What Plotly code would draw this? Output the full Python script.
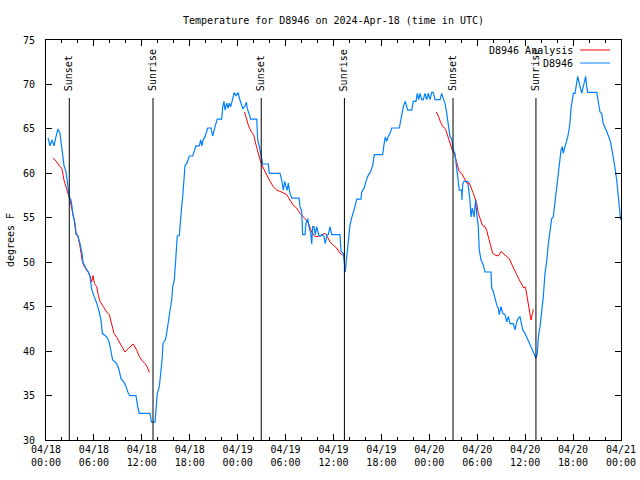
import pandas as pd
import plotly.graph_objects as go

# ---------------- data ----------------
start = "2024-04-18 00:00"
# observed temperature (hours since start, deg F)
obs_hours = [0.25, 0.5, 0.75, 1.0, 1.25, 1.5, 1.75, 1.88, 2.0, 2.13, 2.25, 2.5, 2.63, 2.75, 2.88,
             3.13, 3.26, 3.38, 3.63, 3.76, 4.0, 4.26, 4.51, 4.63, 5.0, 5.3, 5.51, 5.72, 6.05, 6.35,
             6.67, 6.89, 7.05, 7.6, 7.89, 8.14, 8.35, 8.85, 9.14, 9.39, 9.8, 10.02, 10.31, 10.52,
             11.27, 11.48, 11.68, 13.02, 13.21, 13.65, 13.77, 13.94, 14.19, 14.36, 14.53, 14.65,
             14.94, 15.11, 15.31, 15.53, 15.74, 15.87, 16.07, 16.15, 16.28, 16.44, 16.69, 16.78,
             16.99, 17.12, 17.28, 17.41, 17.62, 17.94, 18.37, 18.57, 18.78, 19.2, 19.37, 19.53,
             19.66, 19.91, 20.25, 20.66, 20.87, 21.16, 21.45, 22.0, 22.13, 22.29, 22.41, 22.63,
             22.79, 22.95, 23.13, 23.38, 23.58, 23.79, 24.04, 24.29, 24.63, 24.88, 25.08, 25.21,
             25.33, 25.63, 26.39, 26.51, 26.71, 26.89, 27.14, 27.84, 27.96, 29.3, 29.51, 29.71,
             29.89, 30.05, 30.21, 30.34, 30.55, 30.77, 31.68, 31.81, 32.02, 32.14, 32.43, 32.56,
             32.77, 32.93, 33.15, 33.27, 33.4, 33.56, 33.72, 33.9, 34.15, 34.31, 34.56, 34.81,
             34.97, 35.19, 35.35, 35.56, 35.78, 36.81, 36.94, 37.23, 37.35, 37.48, 37.65, 37.85,
             38.07, 38.28, 38.48, 38.69, 38.9, 39.44, 39.53, 39.82, 40.07, 40.36, 40.66, 40.91,
             41.11, 42.16, 42.32, 42.49, 42.66, 42.83, 43.08, 43.29, 44.24, 44.42, 44.58, 44.74,
             44.99, 45.29, 45.79, 45.99, 46.33, 46.49, 46.67, 46.83, 47.05, 47.25, 47.46, 47.67,
             47.87, 48.09, 48.3, 48.5, 48.71, 49.34, 49.55, 49.75, 49.96, 50.18, 50.38, 50.59,
             50.8, 51.0, 51.21, 51.43, 51.63, 51.75, 52.05, 52.08, 52.18, 52.34, 52.81, 53.01,
             53.09, 53.22, 53.38, 53.59, 53.8, 53.93, 54.13, 54.25, 54.47, 54.76, 54.97, 55.72,
             55.81, 56.01, 56.23, 56.44, 56.64, 56.76, 56.97, 57.19, 57.48, 57.69, 57.89, 58.1,
             58.51, 58.73, 58.94, 59.14, 59.35, 59.52, 59.69, 59.98, 60.27, 60.61, 60.94, 61.23,
             61.36, 61.52, 61.65, 61.86, 62.07, 62.27, 62.48, 62.7, 62.9, 63.11, 63.32, 63.52,
             63.65, 63.82, 64.03, 64.15, 64.36, 64.49, 64.65, 64.78, 64.93, 65.12, 65.33, 65.49,
             65.62, 65.74, 65.87, 66.03, 66.24, 66.45, 66.58, 66.74, 66.87, 67.08, 67.28, 67.43,
             67.58, 67.7, 67.83, 68.96, 69.16, 69.37, 69.58, 69.78, 70.12, 70.41, 70.62, 70.84,
             71.04, 71.25, 71.46, 71.66, 71.79, 71.96]
obs_temp = [64.0, 63.1, 63.75, 63.1, 64.1, 65.0, 64.5, 63.6, 62.6, 61.7, 60.9, 60.2, 59.5, 58.5, 57.4,
            57.0, 56.25, 55.3, 54.4, 53.3, 52.9, 52.1, 51.0, 50.0, 49.3, 48.9, 48.4, 46.95, 46.1, 45.4,
            44.4, 43.5, 42.0, 41.6, 41.1, 40.1, 39.0, 38.6, 37.9, 36.9, 36.45, 36.0, 35.25, 35.0,
            35.0, 33.75, 33.0, 33.0, 32.0, 32.0, 33.4, 35.25, 36.0, 37.5, 39.0, 40.9,
            41.25, 42.0, 43.5, 44.6, 45.75, 47.25, 48.0, 49.1, 51.75, 52.95, 53.0, 54.4,
            56.25, 57.4, 59.25, 60.9, 61.1, 61.95, 61.95, 62.6, 63.1, 63.1, 63.75, 63.1,
            63.75, 64.1, 65.1, 65.1, 64.2, 65.25, 66.1, 66.1, 67.5, 68.1, 67.1, 67.9,
            67.3, 67.9, 67.5, 68.4, 69.1, 68.7, 69.1, 68.25, 67.3, 67.5, 68.0, 67.3,
            67.0, 66.1, 66.1, 63.75, 63.0, 62.1, 61.05, 61.05, 60.0, 60.0, 59.25, 58.1,
            59.1, 58.5, 58.1, 58.9, 57.75, 57.2, 57.2, 56.25, 55.7, 53.1, 53.1, 54.4,
            54.9, 54.0, 53.25, 52.05, 54.0, 54.0, 53.1, 54.0, 53.1, 52.9, 53.1, 52.9,
            52.1, 53.1, 53.1, 54.0, 53.1, 53.1, 51.2, 51.0, 50.1, 48.9, 50.6, 52.8,
            54.2, 55.0, 55.5, 56.25, 57.1, 57.1, 57.9, 58.3, 59.1, 59.8, 60.2, 60.9,
            62.1, 62.1, 63.2, 64.1, 63.6, 64.1, 64.5, 65.1, 65.1, 65.8, 66.75, 67.5,
            68.1, 67.1, 67.1, 68.1, 68.1, 69.0, 68.3, 69.0, 68.3, 68.3, 69.0, 68.3,
            69.0, 68.3, 69.1, 69.1, 68.3, 68.3, 69.0, 68.4, 67.9, 66.75, 65.25, 64.1,
            63.9, 62.6, 62.25, 60.6, 59.4, 58.1, 58.1, 57.0, 58.8, 59.1, 59.1, 57.6,
            57.0, 55.1, 56.1, 55.1, 57.0, 55.5, 54.0, 51.4, 50.25, 49.7, 48.9, 48.9,
            47.1, 46.7, 45.75, 45.2, 44.8, 44.1, 45.0, 44.25, 44.1, 43.3, 43.9, 43.1,
            43.1, 42.4, 43.3, 43.7, 43.9, 43.3, 42.4, 42.0, 41.4, 40.9, 40.1, 39.6,
            39.2, 39.75, 41.6, 42.75, 44.25, 46.1, 48.75, 50.1, 52.1, 53.6, 54.9, 55.1,
            56.1, 57.75, 59.1, 60.4, 61.5, 62.6, 63.0, 62.25, 62.8, 63.4, 64.1, 64.9,
            65.8, 67.3, 68.25, 69.0, 69.0, 70.3, 70.9, 70.3, 69.75, 69.0, 69.75, 70.3,
            70.9, 69.75, 69.1, 69.1, 67.9, 66.9, 66.75, 65.6, 64.9, 64.1, 63.75, 62.8,
            61.9, 60.6, 59.25, 57.75, 56.25, 54.75]

# analysis (three nightly runs)
ana1_hours = [0.88, 1.25, 1.63, 2.0, 2.25, 2.5, 2.75, 3.0, 3.26, 3.51, 3.76, 4.0, 4.26, 4.55, 4.8,
              5.1, 5.42, 5.72, 5.88, 6.07, 6.35, 6.55, 6.76, 7.18, 7.6, 7.93, 8.23, 8.51, 8.85,
              9.27, 9.89, 10.31, 10.93, 11.36, 11.68, 11.98, 12.4, 12.69, 12.94]
ana1_temp = [61.7, 61.4, 60.9, 60.5, 59.25, 58.5, 57.6, 57.0, 55.9, 54.9, 53.1, 53.0, 51.75, 50.1, 49.5,
             49.1, 48.7, 47.8, 48.5, 47.6, 47.25, 46.3, 45.6, 45.0, 44.4, 44.1, 43.1, 42.0, 41.55,
             40.9, 39.9, 40.3, 40.8, 40.1, 39.4, 39.0, 38.6, 38.2, 37.6]
ana2_hours = [24.86, 25.13, 25.38, 25.7, 26.01, 26.3, 26.58, 26.85, 27.21, 27.64, 27.96, 28.46, 28.89,
              29.51, 30.14, 30.55, 30.97, 31.39, 31.81, 32.43, 32.85, 33.27, 33.68, 34.1, 34.52,
              34.94, 35.22, 35.56, 35.98, 36.4, 36.81, 37.15]
ana2_temp = [66.9, 65.9, 65.3, 64.7, 64.3, 63.2, 62.3, 61.4, 60.6, 59.8, 59.25, 58.5, 58.1,
             57.9, 57.6, 57.0, 56.4, 56.1, 55.5, 54.9, 54.4, 53.4, 52.9, 52.9, 53.1,
             53.25, 52.9, 52.3, 51.9, 51.6, 51.0, 50.8]
ana3_hours = [48.87, 49.15, 49.43, 49.7, 50.02, 50.18, 50.4, 50.65, 50.88, 51.12, 51.34, 51.53, 51.75,
              52.05, 52.34, 52.68, 53.01, 53.31, 53.51, 53.72, 53.93, 54.13, 54.43, 54.68, 54.97,
              55.18, 55.38, 55.68, 55.93, 56.23, 56.64, 56.97, 57.26, 57.6, 58.01, 58.31, 58.64,
              58.94, 59.27, 59.57, 59.85, 60.04, 60.19, 60.39, 60.52, 60.73, 60.9, 61.02]
ana3_temp = [66.9, 66.4, 65.7, 65.25, 65.0, 64.5, 63.9, 63.3, 62.6, 62.2, 61.4, 60.9, 60.2,
             60.0, 59.4, 58.9, 58.9, 58.3, 57.75, 57.2, 56.6, 55.5, 54.75, 54.1, 54.0,
             53.6, 52.9, 51.9, 51.0, 50.8, 50.7, 51.2, 51.0, 50.7, 50.4, 49.8, 49.1,
             48.6, 48.0, 47.6, 47.1, 47.2, 46.3, 45.4, 44.25, 43.5, 44.2, 44.7]

sun_events = ["Sunset", "Sunrise", "Sunset", "Sunrise", "Sunset", "Sunrise"]
sun_times = ["2024-04-18 02:55", "2024-04-18 13:24", "2024-04-19 02:57",
             "2024-04-19 13:22", "2024-04-20 02:58", "2024-04-20 13:21"]

tick_times = ["2024-04-18 00:00", "2024-04-18 06:00", "2024-04-18 12:00", "2024-04-18 18:00",
              "2024-04-19 00:00", "2024-04-19 06:00", "2024-04-19 12:00", "2024-04-19 18:00",
              "2024-04-20 00:00", "2024-04-20 06:00", "2024-04-20 12:00", "2024-04-20 18:00",
              "2024-04-21 00:00"]
tick_labels = ["04/18<br>00:00", "04/18<br>06:00", "04/18<br>12:00", "04/18<br>18:00",
               "04/19<br>00:00", "04/19<br>06:00", "04/19<br>12:00", "04/19<br>18:00",
               "04/20<br>00:00", "04/20<br>06:00", "04/20<br>12:00", "04/20<br>18:00",
               "04/21<br>00:00"]

title_text = "Temperature for D8946 on 2024-Apr-18 (time in UTC)"
obs_name = "D8946"
ana_name = "D8946 Analysis"

# ---------------- build ----------------
base = pd.Timestamp(start)


def to_time(hours):
    return [base + pd.Timedelta(hours=h) for h in hours]


ana_x, ana_y = [], []
for hs, ts in [(ana1_hours, ana1_temp), (ana2_hours, ana2_temp), (ana3_hours, ana3_temp)]:
    ana_x += to_time(hs) + [None]
    ana_y += ts + [None]

FONT = "DejaVu Sans Mono"
RED = "#ff0000"
BLUE = "#0080ff"

fig = go.Figure()
fig.add_trace(go.Scatter(x=ana_x, y=ana_y, mode="lines", name=ana_name,
                         line=dict(color=RED, width=1), connectgaps=False, showlegend=False))
fig.add_trace(go.Scatter(x=to_time(obs_hours), y=obs_temp, mode="lines", name=obs_name,
                         line=dict(color=BLUE, width=1.2), showlegend=False))

y_line_top = 0.855
for ev, t in zip(sun_events, sun_times):
    fig.add_shape(type="line", xref="x", yref="paper", x0=t, x1=t, y0=0, y1=y_line_top,
                  line=dict(color="black", width=1))
    fig.add_annotation(x=t, xref="x", y=0.8675, yref="paper", text=ev, textangle=-90,
                       showarrow=False, xanchor="center", yanchor="bottom",
                       font=dict(family=FONT, size=10, color="black"))

# legend drawn gnuplot-style (text right, sample line on right)
for name, color, ypos in [(ana_name, RED, 0.975), (obs_name, BLUE, 0.9425)]:
    fig.add_annotation(x=0.92, xref="paper", y=ypos, yref="paper", text=name,
                       showarrow=False, xanchor="right", yanchor="middle",
                       font=dict(family=FONT, size=10, color="black"))
    fig.add_shape(type="line", xref="paper", yref="paper", x0=0.929, x1=0.981,
                  y0=ypos, y1=ypos, line=dict(color=color, width=1))

fig.update_layout(
    width=640, height=480,
    margin=dict(l=46, r=19, t=40, b=40, autoexpand=False),
    paper_bgcolor="white", plot_bgcolor="white",
    font=dict(family=FONT, size=10, color="black"),
    title=dict(text=title_text, x=0.5, xref="paper", xanchor="center",
               y=1 - 20 / 480, yref="container", yanchor="middle",
               font=dict(family=FONT, size=10, color="black")),
    showlegend=False,
)
fig.update_xaxes(
    type="date", range=[base, base + pd.Timedelta(hours=72)], automargin=False,
    tickmode="array", tickvals=tick_times, ticktext=tick_labels,
    ticks="inside", ticklen=6, tickcolor="black",
    minor=dict(dtick=2 * 3600 * 1000, tick0=start, ticks="inside", ticklen=3, tickcolor="black"),
    showline=True, linecolor="black", linewidth=1, mirror="allticks",
    showgrid=False, zeroline=False, tickfont=dict(family=FONT, size=10),
)
fig.update_yaxes(
    range=[30, 75], dtick=5, tick0=30, automargin=False,
    ticks="inside", ticklen=6, tickcolor="black",
    showline=True, linecolor="black", linewidth=1, mirror="allticks",
    showgrid=False, zeroline=False, tickfont=dict(family=FONT, size=10),
    ticklabelstandoff=8,
    title=dict(text="degrees F", font=dict(family=FONT, size=10), standoff=6),
)

fig.write_html("out.html")
